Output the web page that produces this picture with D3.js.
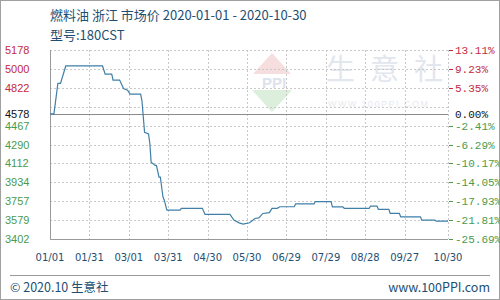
<!DOCTYPE html>
<html><head><meta charset="utf-8">
<script src="https://cdn.jsdelivr.net/npm/d3@7"></script>
<style>html,body{margin:0;padding:0;background:#fff;}svg{display:block;}</style>
</head><body>
<svg id="chart" width="500" height="300"></svg>
<script>
// ---- data ----
const dates = ["2020-01-01","2020-01-04","2020-01-07","2020-01-09","2020-01-13","2020-02-10","2020-02-12","2020-02-17","2020-02-18","2020-02-23","2020-02-26","2020-02-29","2020-03-02","2020-03-10","2020-03-11","2020-03-13","2020-03-16","2020-03-17","2020-03-18","2020-03-21","2020-03-22","2020-03-24","2020-03-25","2020-03-27","2020-03-28","2020-03-30","2020-04-09","2020-04-10","2020-04-26","2020-04-28","2020-05-17","2020-05-20","2020-05-24","2020-05-27","2020-06-01","2020-06-05","2020-06-08","2020-06-11","2020-06-16","2020-06-18","2020-06-22","2020-06-24","2020-07-05","2020-07-06","2020-07-20","2020-07-21","2020-08-02","2020-08-03","2020-08-11","2020-08-12","2020-08-31","2020-09-01","2020-09-06","2020-09-07","2020-09-15","2020-09-16","2020-09-23","2020-09-24","2020-10-09","2020-10-10","2020-10-20","2020-10-21","2020-10-30"];
const prices = [4578,4578,4865,4865,5028,5028,4951,4951,4895,4895,4816,4801,4764,4764,4701,4405,4390,4299,4124,4094,4094,3984,3984,3797,3767,3673,3673,3690,3690,3633,3633,3580,3554,3542,3555,3595,3600,3642,3650,3689,3690,3705,3705,3733,3733,3754,3754,3704,3704,3689,3689,3710,3710,3680,3680,3642,3642,3610,3610,3580,3580,3570,3570];
const baseValue = 4578;
const yDomain = [3402, 5178];
const gridValues = [3402, 3579.6, 3757.2, 3934.8, 4112.4, 4290, 4467.6, 4645.2, 4822.8, 5000.4, 5178];
const leftLabels = ["3402","3579","3757","3934","4112","4290","4467","","4822","5000","5178"];
const rightLabels = ["-25.69%","-21.81%","-17.93%","-14.05%","-10.17%","-6.29%","-2.41%","","5.35%","9.23%","13.11%"];
const xTickDates = ["2020-01-01","2020-01-31","2020-03-01","2020-03-31","2020-04-30","2020-05-30","2020-06-29","2020-07-29","2020-08-28","2020-09-27","2020-10-30"];
const xTickLabels = ["01/01","01/31","03/01","03/31","04/30","05/30","06/29","07/29","08/28","09/27","10/30"];
const titleText = "燃料油 浙江 市场价 2020-01-01 - 2020-10-30";
const subTitle = "型号:180CST";
const footLeft = "© 2020.10 生意社";
const footRight = "www.100PPI.com";

// ---- setup ----
const parse = d3.timeParse("%Y-%m-%d");
const data = dates.map((d,i)=>({date:parse(d), v:prices[i]}));
const svg = d3.select("#chart");
const L = 50, R = 448, T = 50, B = 239;
const x = d3.scaleTime().domain([parse(xTickDates[0]), parse(xTickDates[xTickDates.length-1])]).range([L, R]);
const y = d3.scaleLinear().domain(yDomain).range([B, T]);
const red = "#c42a3c", green = "#4c9a4c", navy = "#1e4f73";

// outer frame
svg.append("rect").attr("x",0.5).attr("y",0.5).attr("width",499).attr("height",299)
  .attr("fill","none").attr("stroke","#a0a0a0");

// watermark
const wm = svg.append("g");
wm.append("path").attr("d","M272,53 L291,74 L253,74 Z").attr("fill","#f6dede");
wm.append("path").attr("d","M252,90 L292,90 L272,112 Z").attr("fill","#dcefdc");
wm.append("text").attr("x",274).attr("y",88).attr("text-anchor","middle")
  .attr("font-family","Liberation Sans, Arial").attr("font-weight","bold").attr("font-size",15)
  .attr("fill","#dde3ec").text("PPI");
wm.append("text").attr("x",326).attr("y",80)
  .attr("font-family","Noto Sans CJK SC").attr("font-size",29).attr("letter-spacing","15px")
  .attr("fill","#e2e6ee").text("生意社");
wm.append("text").attr("x",328).attr("y",107)
  .attr("font-family","Liberation Sans, Arial").attr("font-size",9).attr("letter-spacing","1.5px")
  .attr("fill","#e6e9ef").text("WWW.100PPI.COM");

// grid horizontal
svg.append("g").selectAll("line").data(gridValues).join("line")
  .attr("x1",L).attr("x2",R).attr("y1",d=>Math.round(y(d))+0.5).attr("y2",d=>Math.round(y(d))+0.5)
  .attr("stroke","#c8c8c8").attr("stroke-dasharray","2,2");
// grid vertical
svg.append("g").selectAll("line").data(xTickDates.slice(1)).join("line")
  .attr("x1",d=>Math.round(x(parse(d)))+0.5).attr("x2",d=>Math.round(x(parse(d)))+0.5)
  .attr("y1",T).attr("y2",B)
  .attr("stroke","#c8c8c8").attr("stroke-dasharray","2,2");

// baseline
svg.append("line").attr("x1",L).attr("x2",R)
  .attr("y1",Math.round(y(baseValue))+0.5).attr("y2",Math.round(y(baseValue))+0.5)
  .attr("stroke","#8a8a8a");

// axes lines (left & bottom)
svg.append("path").attr("d",`M${L+0.5},${T} V${B+0.5} H${R}`).attr("fill","none").attr("stroke","#999");

// right ticks
svg.append("g").selectAll("line").data(gridValues.filter((d,i)=>rightLabels[i]!=="")).join("line")
  .attr("x1",R+1).attr("x2",R+5)
  .attr("y1",d=>Math.round(y(d))+0.5).attr("y2",d=>Math.round(y(d))+0.5)
  .attr("stroke",d=>d>baseValue?red:green);

// line
svg.append("path").datum(data)
  .attr("d", d3.line().x(d=>x(d.date)).y(d=>y(d.v)))
  .attr("fill","none").attr("stroke","#3f7fa8").attr("stroke-width",1.2);

// left labels
const ll = svg.append("g").attr("font-family","Liberation Sans, Arial").attr("font-size",11);
ll.selectAll("text").data(gridValues.map((v,i)=>({v,t:leftLabels[i]})).filter(d=>d.t!=="")).join("text")
  .attr("x",5).attr("y",d=>y(d.v)+4).attr("fill",d=>d.v>baseValue?red:green).text(d=>d.t);
ll.append("text").attr("x",5).attr("y",y(baseValue)+4).attr("fill","#111").text(String(baseValue));

// right labels
const rl = svg.append("g").attr("font-family","Liberation Mono, DejaVu Sans Mono, monospace").attr("font-size",11);
rl.selectAll("text").data(gridValues.map((v,i)=>({v,t:rightLabels[i]})).filter(d=>d.t!=="")).join("text")
  .attr("x",455).attr("y",d=>y(d.v)+4).attr("fill",d=>d.v>baseValue?red:green).text(d=>d.t);
rl.append("text").attr("x",455).attr("y",y(baseValue)+4).attr("fill","#111").text("0.00%");

// x labels
svg.append("g").selectAll("text").data(xTickDates.map((d,i)=>({d:parse(d),t:xTickLabels[i]}))).join("text")
  .attr("x",d=>x(d.d)).attr("y",261).attr("text-anchor","middle")
  .attr("font-family","DejaVu Sans, Verdana").attr("font-size",10).attr("fill",navy).text(d=>d.t);

// titles
svg.append("text").attr("x",50).attr("y",20).attr("font-family","Noto Sans CJK SC").attr("font-size",13)
  .attr("fill",navy).text(titleText);
svg.append("text").attr("x",50).attr("y",40).attr("font-family","Noto Sans CJK SC").attr("font-size",13)
  .attr("fill",navy).text(subTitle);

// footer
svg.append("line").attr("x1",10).attr("x2",490).attr("y1",275.5).attr("y2",275.5).attr("stroke","#999");
svg.append("text").attr("x",10).attr("y",292).attr("font-family","Noto Sans CJK SC").attr("font-size",12.5)
  .attr("fill",navy).text(footLeft);
svg.append("text").attr("x",490).attr("y",292).attr("text-anchor","end").attr("font-family","Noto Sans CJK SC").attr("font-size",12.5)
  .attr("fill",navy).text(footRight);
</script>
</body></html>
